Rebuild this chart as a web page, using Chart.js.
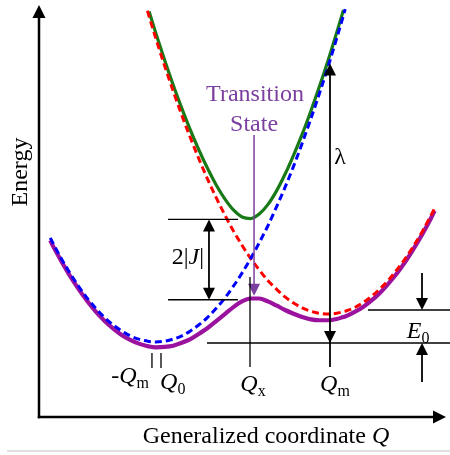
<!DOCTYPE html>
<html>
<head>
<meta charset="utf-8">
<script src="https://cdn.jsdelivr.net/npm/chart.js@4"></script>
<style>
  body { margin: 0; background: #fff; }
  canvas { display: block; }
</style>
</head>
<body>
<canvas id="chart" width="450" height="455"></canvas>
<script>
// generalized coordinate Q (−Qm = −1, Qm = 1)
const qGrid = [-2.23, -2.2, -2.1, -2.0, -1.9, -1.8, -1.7, -1.6, -1.5, -1.4, -1.3, -1.2, -1.1, -1.08,
    -1.0, -0.9, -0.8, -0.7, -0.6, -0.5, -0.4, -0.3, -0.2, -0.1, 0, 0.1, 0.2, 0.3, 0.4, 0.5, 0.6,
    0.7, 0.8, 0.9, 1.0, 1.1, 1.18, 1.2, 1.3, 1.4, 1.5, 1.6, 1.7, 1.8, 1.9, 2.0, 2.1, 2.2, 2.24];

// energies (arbitrary units)
const diabaticLeft = [4.37, 4.25, 3.86, 3.51, 3.19, 2.90, 2.65, 2.43, 2.25, 2.10, 1.98, 1.90, 1.85, 1.84,
    1.83, 1.85, 1.90, 1.98, 2.10, 2.25, 2.43, 2.65, 2.90, 3.19, 3.51, 3.86, 4.25, 4.66, 5.12, 5.60, 6.12,
    6.68, 7.27, 7.89, 8.54, 9.23, 9.80, 9.95, null, null, null, null, null, null, null, null, null, null, null];
const diabaticRight = [null, null, null, null, null, null, null, null, null, null, null, null, 9.91, 9.77,
    9.22, 8.57, 7.95, 7.36, 6.81, 6.29, 5.80, 5.35, 4.93, 4.54, 4.19, 3.87, 3.59, 3.33, 3.12, 2.93, 2.78,
    2.66, 2.58, 2.53, 2.51, 2.53, 2.57, 2.58, 2.66, 2.78, 2.93, 3.12, 3.33, 3.59, 3.87, 4.19, 4.54, 4.93, 5.09];
const adiabaticUpper = [null, null, null, null, null, null, null, null, null, null, null, null, null, 9.89,
    9.35, 8.71, 8.10, 7.53, 7.00, 6.51, 6.06, 5.66, 5.32, 5.05, 4.88, 4.84, 4.95, 5.18, 5.51, 5.92, 6.39,
    6.90, 7.46, 8.06, 8.69, 9.37, 9.93, null, null, null, null, null, null, null, null, null, null, null, null];
const adiabaticLower = [4.31, 4.18, 3.80, 3.44, 3.12, 2.83, 2.57, 2.35, 2.16, 2.00, 1.88, 1.79, 1.73, 1.72,
    1.70, 1.71, 1.74, 1.81, 1.90, 2.03, 2.17, 2.34, 2.51, 2.68, 2.82, 2.89, 2.89, 2.82, 2.72, 2.61, 2.52,
    2.44, 2.38, 2.36, 2.36, 2.39, 2.44, 2.45, 2.55, 2.67, 2.83, 3.02, 3.25, 3.50, 3.79, 4.12, 4.47, 4.86, 5.03];

// annotation positions (Q, energy)
const splitLevels = [4.82, 2.86];      // 2|J| lines
const splitSpan = [-0.86, -0.047];
const splitArrowQ = -0.384;
const tsQ = 0.14;                       // transition state arrow
const qxTick = 0.093;
const qmTick = 1.023;
const lambdaTop = 8.62;
const e0Levels = [2.61, 1.805];
const e0ArrowQ = 2.093;
const leftTicks = [-1.047, -0.942];

const PURPLE_TEXT = '#7b3fa0';
const SERIF = '"Liberation Serif", "Times New Roman", serif';

function toPoints(values) {
    return qGrid.map((q, i) => ({ x: q, y: values[i] }));
}

function arrowHead(ctx, x, y, dir, color, size) {
    const s = size || 12;
    ctx.fillStyle = color;
    ctx.beginPath();
    ctx.moveTo(x, y);
    if (dir === 'up') { ctx.lineTo(x - s / 2, y + s); ctx.lineTo(x + s / 2, y + s); }
    else if (dir === 'down') { ctx.lineTo(x - s / 2, y - s); ctx.lineTo(x + s / 2, y - s); }
    else { ctx.lineTo(x - s, y - s / 2); ctx.lineTo(x - s, y + s / 2); }
    ctx.closePath();
    ctx.fill();
}

function richText(ctx, parts, x, y, align, color) {
    const fontOf = k => k === 'i' ? `italic 24px ${SERIF}` : k === 's' ? `16px ${SERIF}` : `24px ${SERIF}`;
    let w = 0;
    parts.forEach(([t, k]) => { ctx.font = fontOf(k); w += ctx.measureText(t).width; });
    let cx = align === 'center' ? x - w / 2 : align === 'right' ? x - w : x;
    ctx.fillStyle = color;
    ctx.textAlign = 'left';
    ctx.textBaseline = 'middle';
    parts.forEach(([t, k]) => {
        ctx.font = fontOf(k);
        ctx.fillText(t, cx, k === 's' ? y + 7 : y);
        cx += ctx.measureText(t).width;
    });
}

const markup = {
    id: 'markup',
    afterDatasetsDraw(chart) {
        const { ctx, chartArea: a, scales: { x, y } } = chart;
        const px = v => x.getPixelForValue(v);
        const py = v => y.getPixelForValue(v);
        const line = (x1, y1, x2, y2, w, color) => {
            ctx.strokeStyle = color || '#000';
            ctx.lineWidth = w;
            ctx.beginPath();
            ctx.moveTo(x1, y1);
            ctx.lineTo(x2, y2);
            ctx.stroke();
        };
        ctx.save();

        // axes with arrows
        line(a.left, a.bottom + 1.2, a.left, a.top + 10, 2.5);
        arrowHead(ctx, a.left, a.top, 'up', '#000', 13);
        line(a.left - 1.2, a.bottom, a.right - 10, a.bottom, 2.5);
        arrowHead(ctx, a.right, a.bottom, 'right', '#000', 13);

        // bottom frame line of the screenshot
        line(7, 451, 450, 451, 1.5, '#d4d4d4');

        // 2|J| splitting
        splitLevels.forEach(e => line(px(splitSpan[0]), py(e), px(splitSpan[1]), py(e), 1.3));
        line(px(splitArrowQ), py(splitLevels[0]) + 10, px(splitArrowQ), py(splitLevels[1]) - 10, 1.8);
        arrowHead(ctx, px(splitArrowQ), py(splitLevels[0]), 'up', '#000');
        arrowHead(ctx, px(splitArrowQ), py(splitLevels[1]), 'down', '#000');
        richText(ctx, [['2|', 'r'], ['J', 'i'], ['|', 'r']], px(-0.442), py(3.88), 'right', '#000');

        // transition state
        line(px(tsQ), py(6.878), px(tsQ), py(2.96) - 10, 1.5, PURPLE_TEXT);
        arrowHead(ctx, px(tsQ), py(2.96), 'down', PURPLE_TEXT, 12);
        richText(ctx, [['Transition', 'r']], px(0.151), py(7.854), 'center', PURPLE_TEXT);
        richText(ctx, [['State', 'r']], px(0.14), py(7.12), 'center', PURPLE_TEXT);

        // Qx tick
        line(px(qxTick), py(3.415), px(qxTick), py(1.22), 1.3);
        richText(ctx, [['Q', 'i'], ['x', 's']], px(0.128), py(0.78), 'center', '#000');

        // lambda arrow and Qm tick
        line(px(qmTick), py(lambdaTop) + 10, px(qmTick), py(1.22), 1.8);
        arrowHead(ctx, px(qmTick), py(lambdaTop), 'up', '#000');
        arrowHead(ctx, px(qmTick), py(e0Levels[1]), 'down', '#000');
        richText(ctx, [['λ', 'r']], px(1.14), py(6.32), 'center', '#000');
        richText(ctx, [['Q', 'i'], ['m', 's']], px(1.081), py(0.78), 'center', '#000');

        // E0
        line(px(1.465), py(e0Levels[0]), 450, py(e0Levels[0]), 1.3);
        line(px(-0.407), py(e0Levels[1]), 450, py(e0Levels[1]), 1.3);
        line(px(e0ArrowQ), py(3.512), px(e0ArrowQ), py(e0Levels[0]) - 10, 1.8);
        arrowHead(ctx, px(e0ArrowQ), py(e0Levels[0]), 'down', '#000');
        line(px(e0ArrowQ), py(0.854), px(e0ArrowQ), py(e0Levels[1]) + 10, 1.8);
        arrowHead(ctx, px(e0ArrowQ), py(e0Levels[1]), 'up', '#000');
        richText(ctx, [['E', 'i'], ['0', 's']], px(2.047), py(2.07), 'center', '#000');

        // -Qm and Q0 ticks
        leftTicks.forEach(q => line(px(q), py(1.561), px(q), py(1.195), 1.3));
        richText(ctx, [['-', 'r'], ['Q', 'i'], ['m', 's']], px(-1.081), py(0.976), 'right', '#000');
        richText(ctx, [['Q', 'i'], ['0', 's']], px(-0.953), py(0.83), 'left', '#000');

        // axis titles
        ctx.save();
        ctx.translate(a.left - 18, py(5.976));
        ctx.rotate(-Math.PI / 2);
        richText(ctx, [['Energy', 'r']], 0, 0, 'center', '#000');
        ctx.restore();
        richText(ctx, [['Generalized coordinate ', 'r'], ['Q', 'i']], px(0.279), a.bottom + 20, 'center', '#000');

        ctx.restore();
    }
};

new Chart(document.getElementById('chart'), {
    type: 'line',
    data: {
        datasets: [
            { data: toPoints(diabaticLeft), borderColor: '#0000ff', borderWidth: 3, borderDash: [7, 4] },
            { data: toPoints(diabaticRight), borderColor: '#ff0000', borderWidth: 3, borderDash: [7, 4] },
            { data: toPoints(adiabaticUpper), borderColor: '#177a17', borderWidth: 3.2 },
            { data: toPoints(adiabaticLower), borderColor: '#9a129e', borderWidth: 4.2 }
        ]
    },
    options: {
        responsive: false,
        animation: false,
        cubicInterpolationMode: 'monotone',
        spanGaps: false,
        elements: { point: { radius: 0 }, line: { cubicInterpolationMode: 'monotone', fill: false } },
        layout: { padding: { left: 39, right: 4, top: 5, bottom: 38 } },
        scales: {
            x: { type: 'linear', min: -2.3605, max: 2.372, display: false },
            y: { min: 0, max: 10.05, display: false }
        },
        plugins: { legend: { display: false }, tooltip: { enabled: false } }
    },
    plugins: [markup]
});
</script>
</body>
</html>
